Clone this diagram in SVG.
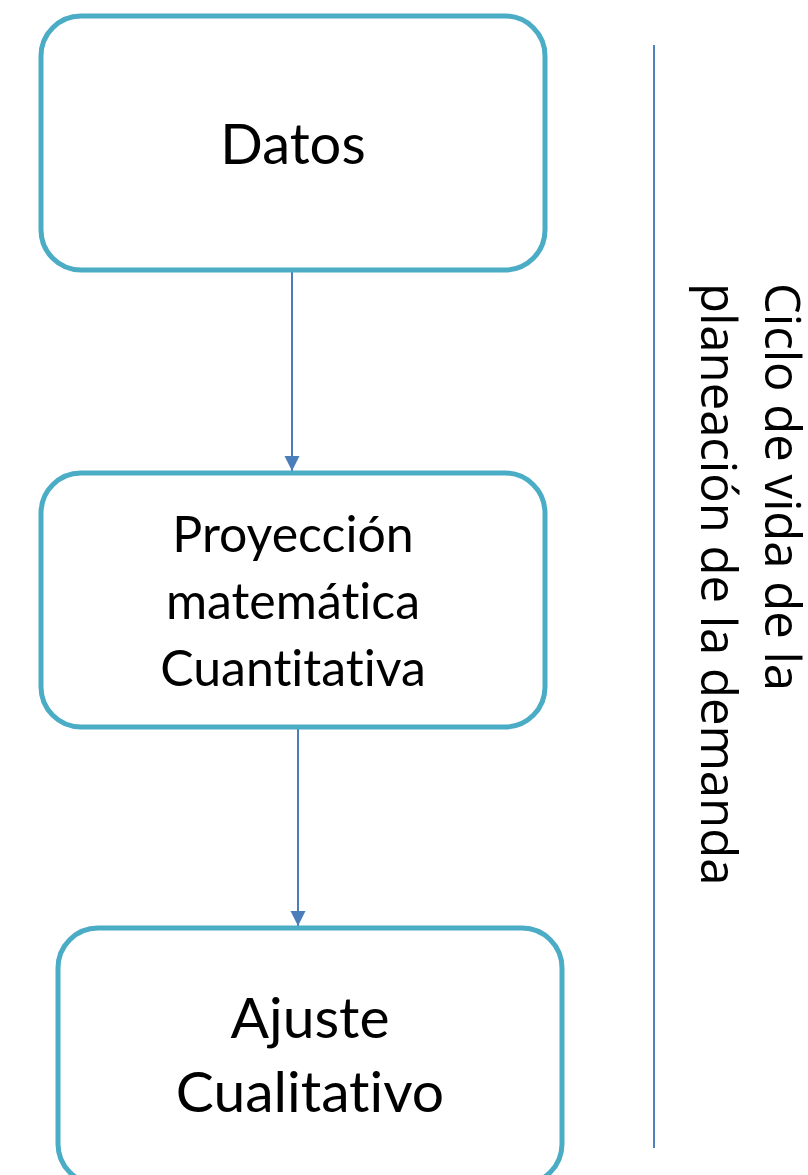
<svg xmlns="http://www.w3.org/2000/svg" width="808" height="1175" viewBox="0 0 808 1175">
<style>
.box{fill:#fff;stroke:#4BACC6;stroke-width:5}
.t{font-family:Lato,"Liberation Sans",sans-serif;fill:#000;text-anchor:middle;font-variant-ligatures:none}
.c{stroke:#4A7EBB;stroke-width:2;fill:none}
.side{font-family:"Open Sans","Liberation Sans",sans-serif;font-size:49px;fill:#000}
</style>
<defs>
<marker id="ah" markerUnits="userSpaceOnUse" markerWidth="16" markerHeight="16" refX="15" refY="7.5" orient="auto">
<path d="M0,0 L15,7.5 L0,15 Z" fill="#4A7EBB"/>
</marker>
</defs>
<rect width="808" height="1175" fill="#fff"/>
<g id="connectors">
<line class="c" x1="292" y1="272" x2="292" y2="471" marker-end="url(#ah)"/>
<line class="c" x1="298" y1="729" x2="298" y2="926" marker-end="url(#ah)"/>
</g>
<g id="datos">
<rect class="box" x="41" y="16" width="504" height="254" rx="40" ry="40"/>
<text class="t" x="293" y="164" font-size="56">Datos</text>
</g>
<g id="proyeccion">
<rect class="box" x="41" y="473" width="504" height="254" rx="40" ry="40"/>
<text class="t" x="293" y="552" font-size="50">Proyección</text>
<text class="t" x="293" y="619" font-size="50">matemática</text>
<text class="t" x="293" y="686" font-size="50">Cuantitativa</text>
</g>
<g id="ajuste">
<rect class="box" x="58" y="928" width="504" height="256" rx="40" ry="40"/>
<text class="t" x="310" y="1038" font-size="57">Ajuste</text>
<text class="t" x="310" y="1112" font-size="57">Cualitativo</text>
</g>
<g id="ciclo">
<line x1="654" y1="45" x2="654" y2="1148" stroke="#4F81BD" stroke-width="2"/>
<g transform="translate(765,283) rotate(90)">
<text class="side" x="0" y="0">Ciclo de vida de la</text>
<text class="side" x="0" y="64">planeación de la demanda</text>
</g>
</g>
</svg>
